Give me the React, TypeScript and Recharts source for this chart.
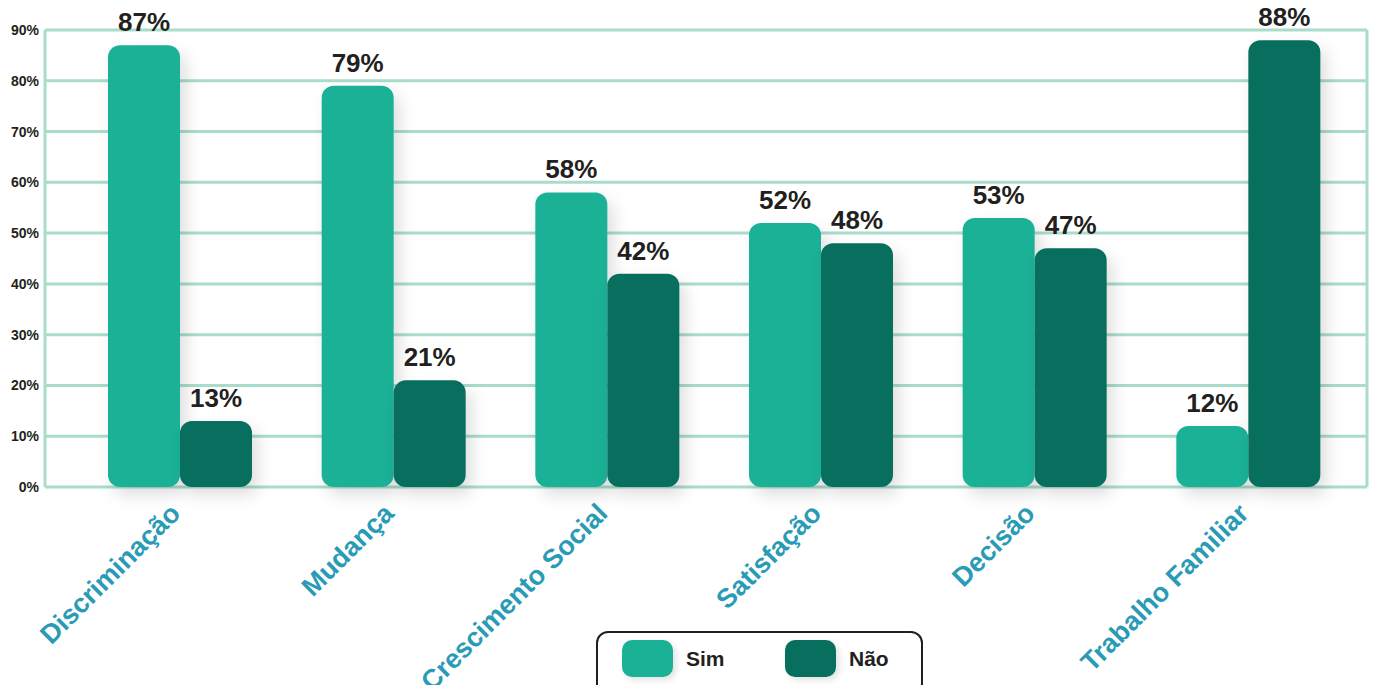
import React from 'react'
import {
  BarChart,
  Bar,
  XAxis,
  YAxis,
  CartesianGrid,
  LabelList,
  Rectangle,
} from 'recharts'

const categories = [
  'Discriminação',
  'Mudança',
  'Crescimento Social',
  'Satisfação',
  'Decisão',
  'Trabalho Familiar',
]
const simValues = [87, 79, 58, 52, 53, 12]
const naoValues = [13, 21, 42, 48, 47, 88]
const yTicks = [0, 10, 20, 30, 40, 50, 60, 70, 80, 90]

const SIM_COLOR = '#1bb197'
const NAO_COLOR = '#086e5d'
const GRID_COLOR = '#a9dccb'
const TEXT_DARK = '#231f20'
const FONT = '"Liberation Sans", Arial, sans-serif'

const data = categories.map((name, i) => ({
  name,
  sim: simValues[i],
  nao: naoValues[i],
}))

const ShadowBar = (props: any) => (
  <Rectangle
    {...props}
    style={{ filter: 'drop-shadow(6px 8px 8px rgba(0,0,0,0.13))' }}
  />
)

const CategoryTick = ({ x, y, payload }: any) => (
  <text
    x={x + 2}
    y={y + 20}
    transform={`rotate(-45, ${x + 2}, ${y + 20})`}
    textAnchor="end"
    fill="#2a9bb6"
    fontSize={27}
    fontWeight={700}
    fontFamily={FONT}
  >
    {payload.value}
  </text>
)

const legendItems = [
  { label: 'Sim', color: SIM_COLOR, left: 24 },
  { label: 'Não', color: NAO_COLOR, left: 187 },
]

const LegendBox = () => (
  <div
    style={{
      position: 'absolute',
      left: 596,
      top: 631,
      width: 323,
      height: 62,
      border: `2px solid ${TEXT_DARK}`,
      borderRadius: 12,
      background: '#fff',
      fontFamily: FONT,
      fontWeight: 700,
      fontSize: 21,
      color: TEXT_DARK,
    }}
  >
    {legendItems.map((it) => (
      <div key={it.label}>
        <div
          style={{
            position: 'absolute',
            left: it.left,
            top: 7,
            width: 51,
            height: 37,
            borderRadius: 10,
            background: it.color,
            boxShadow: '3px 3px 6px rgba(0,0,0,0.12)',
          }}
        />
        <div style={{ position: 'absolute', left: it.left + 64, top: 14 }}>
          {it.label}
        </div>
      </div>
    ))}
  </div>
)

export default function App() {
  return (
    <div
      style={{
        position: 'absolute',
        left: 0,
        top: 0,
        width: 1374,
        height: 685,
        overflow: 'hidden',
        background: '#fff',
      }}
    >
      <BarChart
        width={1374}
        height={685}
        data={data}
        margin={{ top: 30, right: 7, left: 0, bottom: 48 }}
        barGap={0}
        barSize={72}
      >
        <CartesianGrid
          stroke={GRID_COLOR}
          strokeWidth={3}
          verticalCoordinatesGenerator={({ offset }: any) => [
            offset.left,
            offset.left + offset.width,
          ]}
        />
        <XAxis
          dataKey="name"
          height={150}
          axisLine={false}
          tickLine={false}
          interval={0}
          padding={{ left: 28, right: 12 }}
          tick={<CategoryTick />}
        />
        <YAxis
          width={45}
          domain={[0, 90]}
          ticks={yTicks}
          axisLine={false}
          tickLine={false}
          tickSize={0}
          tickMargin={6}
          tickFormatter={(v: number) => `${v}%`}
          tick={{ fontSize: 14, fontWeight: 700, fill: TEXT_DARK, fontFamily: FONT }}
        />
        <Bar
          dataKey="sim"
          name="Sim"
          fill={SIM_COLOR}
          radius={[12, 12, 12, 12]}
          shape={<ShadowBar />}
          isAnimationActive={false}
        >
          <LabelList
            dataKey="sim"
            position="top"
            offset={14}
            formatter={(v: any) => `${v}%`}
            style={{ fontSize: 26, fontWeight: 700, fill: TEXT_DARK, fontFamily: FONT }}
          />
        </Bar>
        <Bar
          dataKey="nao"
          name="Não"
          fill={NAO_COLOR}
          radius={[12, 12, 12, 12]}
          shape={<ShadowBar />}
          isAnimationActive={false}
        >
          <LabelList
            dataKey="nao"
            position="top"
            offset={14}
            formatter={(v: any) => `${v}%`}
            style={{ fontSize: 26, fontWeight: 700, fill: TEXT_DARK, fontFamily: FONT }}
          />
        </Bar>
      </BarChart>
      <LegendBox />
    </div>
  )
}
